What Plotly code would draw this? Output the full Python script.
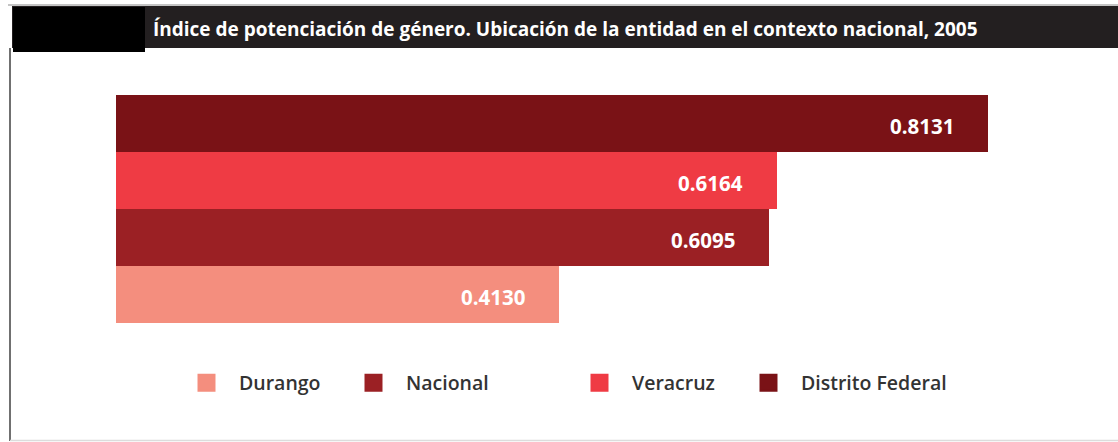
import plotly.graph_objects as go

# ---- data ----
categories = ["Durango", "Nacional", "Veracruz", "Distrito Federal"]
values = [0.4130, 0.6095, 0.6164, 0.8131]
value_labels = ["0.4130", "0.6095", "0.6164", "0.8131"]
colors = ["#f48e7e", "#9b2024", "#ef3b44", "#7a1216"]
title_text = "Índice de potenciación de género. Ubicación de la entidad en el contexto nacional, 2005"

W, H = 1118, 442
legend_px = [174, 341, 567, 736]  # legend left positions (pixels)

fig = go.Figure()
legend_names = ["legend", "legend2", "legend3", "legend4"]
for i, (cat, val, col) in enumerate(zip(categories, values, colors)):
    fig.add_trace(go.Bar(
        x=[val], y=[cat], orientation="h", name=cat,
        marker=dict(color=col, line=dict(width=0)),
        width=1, showlegend=False, hoverinfo="x+y",
    ))
    # legend entry with a larger square swatch
    fig.add_trace(go.Scatter(
        x=[None], y=[None], mode="markers", name=cat,
        marker=dict(symbol="square", size=16, color=col, line=dict(color=col, width=2)),
        legend=legend_names[i], showlegend=True,
    ))
    fig.add_annotation(
        x=val, y=cat, xref="x", yref="y", text=value_labels[i],
        showarrow=False, xanchor="right", xshift=-32, yshift=-2,
        font=dict(family="Open Sans", size=20.5, color="white", weight="bold"),
    )

def px(x):
    return x / W

def py(y):
    return 1 - y / H

shapes = [
    dict(type="line", xref="paper", yref="paper", x0=px(8), x1=px(1118), y0=py(5), y1=py(5),
         line=dict(color="#b0b0b0", width=1.5)),
    dict(type="rect", xref="paper", yref="paper", x0=px(12), x1=px(1118), y0=py(48), y1=py(6),
         fillcolor="#231f20", line=dict(width=0)),
    dict(type="rect", xref="paper", yref="paper", x0=px(13), x1=px(145), y0=py(52), y1=py(7),
         fillcolor="#000000", line=dict(width=0)),
    dict(type="line", xref="paper", yref="paper", x0=px(10), x1=px(10), y0=py(48), y1=py(441),
         line=dict(color="#707070", width=2)),
    dict(type="line", xref="paper", yref="paper", x0=px(10), x1=px(1118), y0=py(440.5), y1=py(440.5),
         line=dict(color="#dcdcdc", width=1.5)),
]

fig.add_annotation(
    x=px(151), y=py(29), xref="paper", yref="paper", text=title_text,
    showarrow=False, xanchor="left", yanchor="middle",
    font=dict(family="Open Sans", size=19, color="white", weight="bold"),
)

legend_common = dict(
    orientation="h", yanchor="middle", xanchor="left",
    bgcolor="rgba(0,0,0,0)", itemwidth=55,
    font=dict(family="Open Sans", size=19.5, color="#333333", weight=600),
)

layout_legends = {}
for name, lx in zip(legend_names, legend_px):
    d = dict(legend_common)
    d.update(x=px(lx), y=py(383))
    layout_legends[name] = d

fig.update_layout(
    width=W, height=H,
    margin=dict(l=0, r=0, t=0, b=0),
    paper_bgcolor="white", plot_bgcolor="white",
    barmode="overlay", bargap=0,
    showlegend=True,
    xaxis=dict(domain=[px(116), px(1077)], range=[0, 0.8965], visible=False, fixedrange=True),
    yaxis=dict(domain=[py(323), py(95)], categoryorder="array", categoryarray=categories,
               range=[-0.5, 3.5], visible=False, fixedrange=True),
    shapes=shapes,
    **layout_legends,
)

fig.write_html("out.html", config={"displayModeBar": False},
               post_script="document.body.style.margin='0';")
